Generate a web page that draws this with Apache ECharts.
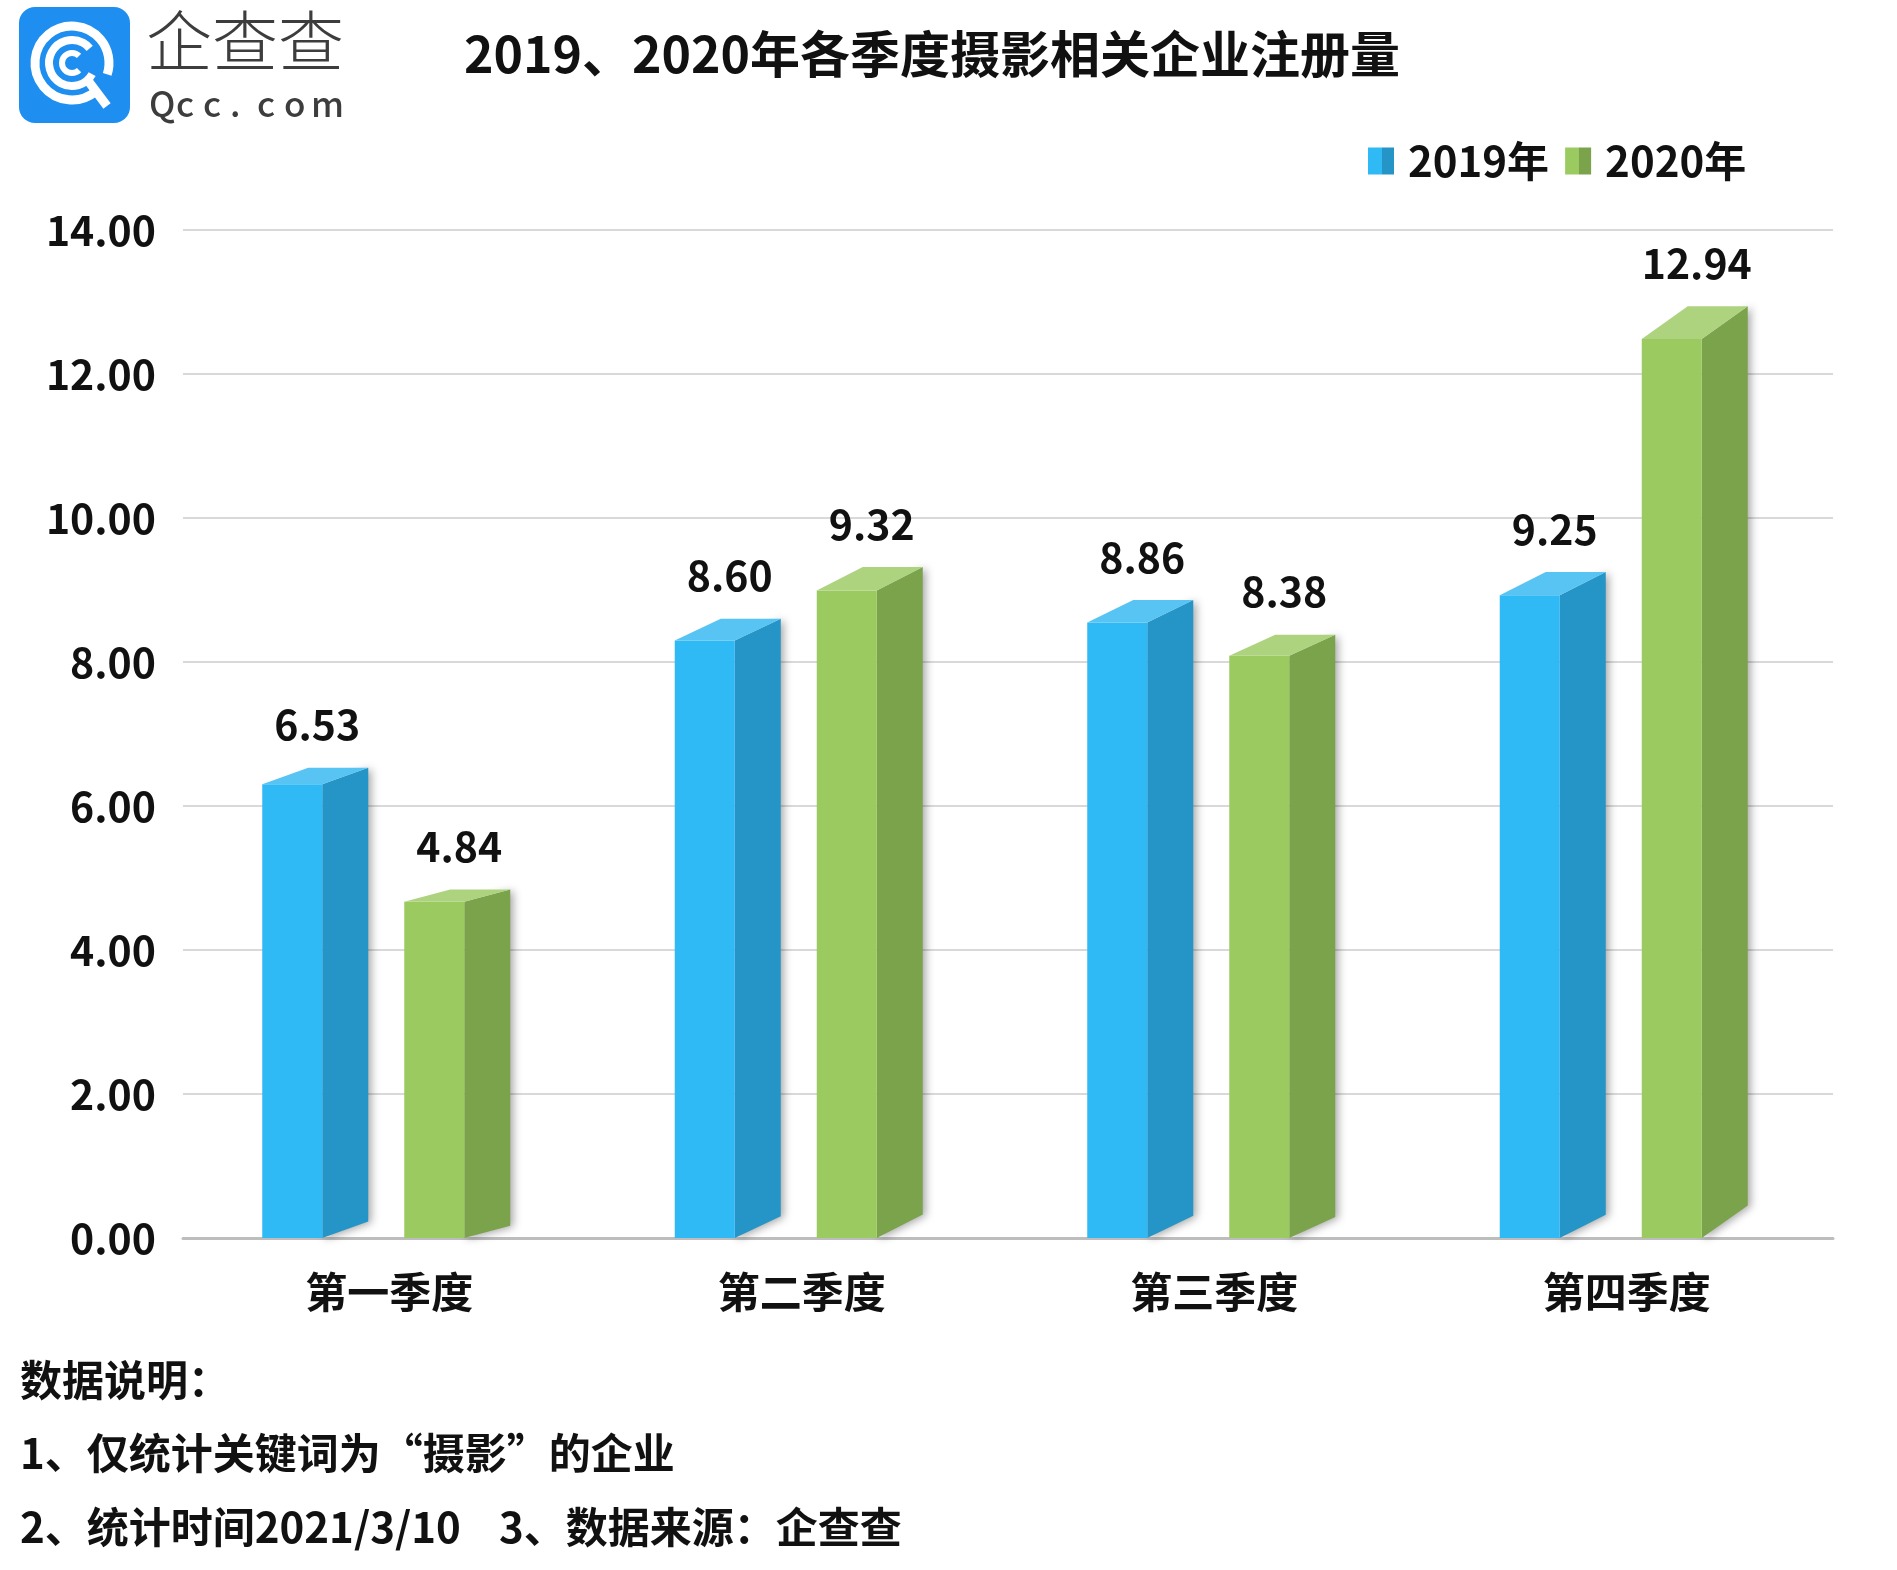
<!DOCTYPE html>
<html>
<head>
<meta charset="utf-8">
<title>2019、2020年各季度摄影相关企业注册量</title>
<script src="https://cdn.jsdelivr.net/npm/echarts@6/dist/echarts.min.js"></script>
<style>
  html, body { margin: 0; padding: 0; background: #fff; }
  #main { width: 1897px; height: 1570px; }
</style>
</head>
<body>
<div id="main"></div>
<script>
// 数据
const categories = ['第一季度', '第二季度', '第三季度', '第四季度'];
const data2019 = [6.53, 8.60, 8.86, 9.25];
const data2020 = [4.84, 9.32, 8.38, 12.94];
const seriesNames = ['2019年', '2020年'];
const yTicks = { min: 0, max: 14, interval: 2 };
const notes = [
  '数据说明：',
  '1、仅统计关键词为“摄影”的企业',
  '2、统计时间2021/3/10    3、数据来源：企查查'
];

const FONT = '"Noto Sans CJK SC", "Noto Sans", sans-serif';

// 三个面的配色：正面 / 侧面 / 顶面
const palette = [
  { front: '#2FB9F5', side: '#2594C6', top: '#57C4F4' },
  { front: '#9BCB60', side: '#7BA34C', top: '#AED37E' }
];

// 每个系列正面相对类目中心的偏移
const FRONT_W = 60;
const SIDE_DX = 46;
const offsets = [-127, 15];

function makeRender(idx) {
  const c = palette[idx];
  return function (params, api) {
    const cat = api.value(0);
    const val = api.value(1);
    const top = api.coord([cat, val]);
    const base = api.coord([cat, 0]);
    const x0 = top[0] + offsets[idx];
    const x1 = x0 + FRONT_W;
    const yb = top[1];
    const y0 = base[1];
    // 越高的柱子纵深越大
    const dy = 0.035 * (y0 - yb);
    const yf = yb + dy;
    return {
      type: 'group',
      children: [
        {
          type: 'polygon',
          shape: { points: [[x1, yf], [x1 + SIDE_DX, yb], [x1 + SIDE_DX, y0 - dy], [x1, y0]] },
          style: {
            fill: c.side,
            shadowBlur: 8,
            shadowColor: 'rgba(0,0,0,0.35)',
            shadowOffsetX: 3,
            shadowOffsetY: 1
          }
        },
        {
          type: 'rect',
          shape: { x: x0, y: yf, width: FRONT_W, height: y0 - yf },
          style: { fill: c.front }
        },
        {
          type: 'polygon',
          shape: { points: [[x0, yf], [x1, yf], [x1 + SIDE_DX, yb], [x0 + SIDE_DX, yb]] },
          style: { fill: c.top }
        },
        {
          type: 'text',
          style: {
            x: x0 + (FRONT_W + SIDE_DX) / 2 + 2,
            y: yb - 43,
            text: val.toFixed(2),
            fill: '#111',
            font: 'bold 41px ' + FONT,
            align: 'center',
            verticalAlign: 'middle'
          }
        }
      ]
    };
  };
}

function legendColor(c) {
  return new echarts.graphic.LinearGradient(0, 0, 1, 0, [
    { offset: 0, color: c.front },
    { offset: 0.55, color: c.front },
    { offset: 0.55, color: c.side },
    { offset: 1, color: c.side }
  ]);
}

// 企查查 logo 与说明文字
const qccLetters = 'Qcc.com'.split('');
const graphics = [
  {
    type: 'rect',
    shape: { x: 19, y: 7, width: 111, height: 116, r: 16 },
    style: { fill: '#1E8FF0' }
  },
  {
    type: 'arc',
    shape: { cx: 72, cy: 63, r: 37, startAngle: Math.PI * 0.28, endAngle: Math.PI * 2.1, clockwise: true },
    style: { stroke: '#fff', lineWidth: 9, fill: null }
  },
  {
    type: 'arc',
    shape: { cx: 72, cy: 63, r: 23, startAngle: Math.PI * 0.16, endAngle: Math.PI * 1.78, clockwise: true },
    style: { stroke: '#fff', lineWidth: 8, fill: null }
  },
  {
    type: 'arc',
    shape: { cx: 72, cy: 63, r: 10, startAngle: Math.PI * 0.25, endAngle: Math.PI * 1.75, clockwise: true },
    style: { stroke: '#fff', lineWidth: 6, fill: null }
  },
  {
    type: 'line',
    shape: { x1: 86, y1: 78, x2: 107, y2: 106 },
    style: { stroke: '#fff', lineWidth: 9 }
  },
  {
    type: 'text',
    left: 146,
    top: 8,
    style: { text: '企查查', fill: '#3d3d3d', font: '300 66px ' + FONT }
  }
];
qccLetters.forEach(function (ch, i) {
  graphics.push({
    type: 'text',
    left: 149 + i * 27,
    top: 86,
    style: { text: ch, fill: '#3d3d3d', font: '500 35px ' + FONT }
  });
});
notes.forEach(function (line, i) {
  graphics.push({
    type: 'text',
    left: 20,
    top: 1359 + i * 73.5,
    style: { text: line, fill: '#111', font: 'bold 42px ' + FONT }
  });
});

const chart = echarts.init(document.getElementById('main'));
chart.setOption({
  backgroundColor: '#fff',
  animation: false,
  textStyle: { fontFamily: FONT },
  title: {
    text: '2019、2020年各季度摄影相关企业注册量',
    left: 459,
    top: 24,
    textStyle: { fontSize: 50, fontWeight: 'bold', color: '#111', fontFamily: FONT }
  },
  legend: {
    left: 1363,
    top: 135,
    icon: 'rect',
    itemWidth: 26,
    itemHeight: 27,
    itemGap: 16,
    textStyle: { fontSize: 42, fontWeight: 'bold', color: '#111', fontFamily: FONT, padding: [0, 0, 0, 9] },
    data: seriesNames.map(function (n, i) {
      return { name: n, itemStyle: { color: legendColor(palette[i]) } };
    })
  },
  grid: { left: 183, right: 64, top: 230, bottom: 332 },
  xAxis: {
    type: 'category',
    data: categories,
    axisLine: { lineStyle: { color: '#BDBDBD', width: 3 } },
    axisTick: { show: false },
    axisLabel: { fontSize: 42, fontWeight: 'bold', color: '#111', margin: 33, fontFamily: FONT }
  },
  yAxis: {
    type: 'value',
    min: yTicks.min,
    max: yTicks.max,
    interval: yTicks.interval,
    axisLine: { show: false },
    axisTick: { show: false },
    axisLabel: {
      fontSize: 41,
      fontWeight: 'bold',
      color: '#111',
      margin: 27,
      fontFamily: FONT,
      formatter: function (v) { return v.toFixed(2); }
    },
    splitLine: { lineStyle: { color: '#D9D9D9', width: 2 } }
  },
  series: [data2019, data2020].map(function (vals, i) {
    return {
      name: seriesNames[i],
      type: 'custom',
      renderItem: makeRender(i),
      itemStyle: { color: palette[i].front },
      encode: { x: 0, y: 1 },
      data: vals.map(function (v, j) { return [j, v]; }),
      z: 2
    };
  }),
  graphic: graphics
});
</script>
</body>
</html>
